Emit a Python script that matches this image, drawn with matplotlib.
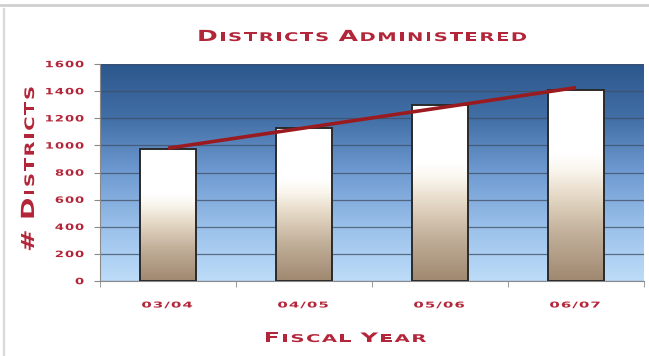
import numpy as np
import matplotlib.pyplot as plt
from matplotlib.colors import LinearSegmentedColormap
from matplotlib.lines import Line2D
from matplotlib.patheffects import AbstractPathEffect
from matplotlib.transforms import Affine2D

# fiscal years and number of districts administered
years = ['03/04', '04/05', '05/06', '06/07']
districts = [970, 1130, 1300, 1410]
yticks = list(range(0, 1601, 200))

RED = '#b3263a'
W, H = 649, 356

fig = plt.figure(figsize=(W / 100, H / 100), dpi=100)
renderer = fig.canvas.get_renderer()


class Stretch(AbstractPathEffect):
    """Scale a glyph about a fixed display point (extended lettering)."""

    def __init__(self, cx, cy, sx, sy):
        super().__init__()
        self._t = Affine2D().translate(-cx, -cy).scale(sx, sy).translate(cx, cy)

    def draw_path(self, renderer, gc, tpath, affine, rgbFace=None):
        renderer.draw_path(gc, tpath, affine + self._t, rgbFace)


def char_width(c, size):
    if c == ' ':
        return 0.32 * size * 100 / 72
    t = fig.text(0, 0, c, fontsize=size, fontweight='bold')
    w = t.get_window_extent(renderer).width
    t.remove()
    return w


def wide_text(px, py, pieces, gap=1.0, width=None, sx=1.0, ha='center',
              rotation=0):
    """Extended lettering; px, py are pixel coords of the baseline anchor
    measured from the top-left corner of the figure."""
    chars = [(c, size) for s, size in pieces for c in s]
    widths = [char_width(c, size) for c, size in chars]
    if width is not None:
        sx = (width - gap * (len(chars) - 1)) / sum(widths)
    total = sx * sum(widths) + gap * (len(chars) - 1)
    pos = {'left': 0, 'center': -total / 2, 'right': -total}[ha]
    for (c, size), w in zip(chars, widths):
        if c != ' ':
            if rotation:
                cx, cy = px, H - (py - pos)
                eff = Stretch(cx, cy, 1, sx)
            else:
                cx, cy = px + pos, H - py
                eff = Stretch(cx, cy, sx, 1)
            fig.text(cx / W, cy / H, c, fontsize=size, fontweight='bold',
                     color=RED, rotation=rotation, rotation_mode='anchor',
                     ha='left', va='baseline', path_effects=[eff])
        pos += sx * w + gap


def small_caps(text, big, small):
    pieces = []
    for word in text.split(' '):
        if pieces:
            pieces.append((' ', small))
        pieces.append((word[0], big))
        if len(word) > 1:
            pieces.append((word[1:], small))
    return pieces


# plot area: x 100..644 px, y 64..281 px
ax = fig.add_axes([100 / W, 1 - 281 / H, 544 / W, 217 / H])

x = np.arange(len(years))

# sky gradient behind the bars
sky = LinearSegmentedColormap.from_list(
    'sky', ['#bddcf8', '#9ac0ea', '#6f9bd2', '#436fa7', '#2b578c'])
ax.imshow(np.linspace(0, 1, 256).reshape(-1, 1), extent=[-0.5, 3.5, 0, 1600],
          origin='lower', aspect='auto', cmap=sky, zorder=0)

ax.set_axisbelow(True)
ax.grid(axis='y', color='#3d4d63', lw=0.9, alpha=0.75)

# bars with a sand-to-white gradient
sand = LinearSegmentedColormap.from_list(
    'sand', [(0, '#a08870'), (0.25, '#c2b09a'), (0.45, '#e6dac8'),
             (0.58, '#faf6ee'), (0.66, '#ffffff'), (1, '#ffffff')])
width = 0.41
bars = ax.bar(x, districts, width=width, facecolor='none',
              edgecolor='#2a2a2a', lw=1.4, zorder=3)
for xi, h, b in zip(x, districts, bars):
    im = ax.imshow(np.linspace(0, 1, 256).reshape(-1, 1),
                   extent=[xi - width / 2, xi + width / 2, 0, h],
                   origin='lower', aspect='auto', cmap=sand, zorder=2.5)
    im.set_clip_path(b)

# linear trend line
coef = np.polyfit(x, districts, 1)
ends = x[[0, -1]]
ax.plot(ends, np.polyval(coef, ends), color='#9a1b1f', lw=2.6, zorder=4,
        solid_capstyle='butt')

ax.set_xlim(-0.5, 3.5)
ax.set_ylim(0, 1600)

for s in ['top', 'right']:
    ax.spines[s].set_visible(False)
for s in ['left', 'bottom']:
    ax.spines[s].set_color('#8a8a8a')
    ax.spines[s].set_linewidth(0.8)

ax.set_yticks(yticks, [''] * len(yticks))
ax.set_xticks(x, [''] * len(x))
ax.set_xticks(np.arange(-0.5, 4, 1), minor=True)
ax.tick_params(axis='x', which='major', length=0)
ax.tick_params(axis='x', which='minor', length=4, color='#8a8a8a')
ax.tick_params(axis='y', length=4, color='#8a8a8a')

# tick labels
to_px = ax.transData
for v in yticks:
    _, yd = to_px.transform((0, v))
    wide_text(84, H - yd + 3.2, [(str(v), 6.3)], gap=1.0, sx=1.5, ha='right')
for xi, lab in zip(x, years):
    xd, _ = to_px.transform((xi, 0))
    wide_text(xd - 1, 307.5, [(lab, 5.8)], gap=1.3, sx=1.85)

# outer frame (top and left edges)
fig.add_artist(Line2D([0, 1], [1 - 5 / H] * 2, transform=fig.transFigure,
                      color='#cfcfcf', lw=2))
fig.add_artist(Line2D([4 / W] * 2, [0, 1 - 9 / H], transform=fig.transFigure,
                      color='#dadada', lw=1.6))

wide_text(362, 41, small_caps('DISTRICTS ADMINISTERED', 11, 8.6),
          gap=1.6, width=330)
wide_text(345, 342, small_caps('FISCAL YEAR', 9.4, 7.7), gap=1.6, width=163)
wide_text(34, 169, small_caps('# DISTRICTS', 13, 9.4), gap=1.6, width=166,
          rotation=90)

fig.savefig('out.png', dpi=100)
